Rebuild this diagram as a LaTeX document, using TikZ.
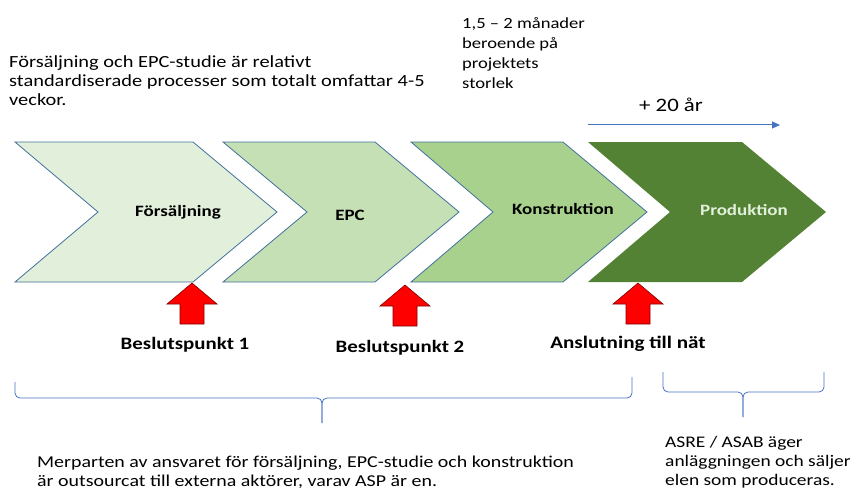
\documentclass[tikz,border=0pt]{standalone}
\usepackage{fontspec}
\setmainfont{Carlito}[FakeStretch=1.2]
\usetikzlibrary{arrows.meta}
\definecolor{fasA}{HTML}{E2EFDA}
\definecolor{fasB}{HTML}{C5E0B4}
\definecolor{fasC}{HTML}{A9D18E}
\definecolor{fasD}{HTML}{548235}
\definecolor{kant}{HTML}{41719C}
\definecolor{blaa}{HTML}{4472C4}
\definecolor{pilrod}{HTML}{FF0000}
\begin{document}
\begin{tikzpicture}[x=1pt, y=-1pt]
\tikzstyle{fas}=[draw=kant, line width=0.8pt, line join=miter]
\tikzstyle{etikett}=[font=\bfseries\fontsize{15.8}{18}\selectfont, inner sep=0pt]
\tikzstyle{beslut}=[font=\bfseries\fontsize{17.4}{20}\selectfont, inner sep=0pt]
\tikzstyle{txt}=[font=\fontsize{17}{19}\selectfont, align=left, inner sep=0pt, anchor=north west]
\tikzstyle{uppil}=[fill=pilrod, draw=red!50!black, line width=0.6pt]
\tikzstyle{klammer}=[draw=blaa, line width=0.8pt, rounded corners=5pt]
\useasboundingbox (0,0) rectangle (856,492);

% faserna
\draw[fas, fill=fasA] (15,142) -- (193,142) -- (277,212) -- (193,282) -- (15,282) -- (98,212) -- cycle;
\draw[fas, fill=fasB] (223,142) -- (375,142) -- (459,212) -- (375,282) -- (223,282) -- (307,212) -- cycle;
\draw[fas, fill=fasC] (411,142) -- (563,142) -- (647,212) -- (563,282) -- (411,282) -- (493,212) -- cycle;
\fill[fasD] (588,142) -- (742,142) -- (826,212) -- (742,282) -- (588,282) -- (670,212) -- cycle;

\node[etikett](fors)   at (178, 212) {Försäljning};
\node[etikett](epc)    at (350, 215) {EPC};
\node[etikett](konstr) at (563, 209) {Konstruktion};
\node[etikett, text=fasA](prod) at (744, 210) {Produktion};

% beslutspunkter
\draw[uppil] (192,283) -- (217,304) -- (204,304) -- (204,324) -- (180,324) -- (180,304) -- (167,304) -- cycle;
\draw[uppil] (405,285) -- (430,306) -- (417,306) -- (417,326) -- (393,326) -- (393,306) -- (380,306) -- cycle;
\draw[uppil] (638,283) -- (663,304) -- (650,304) -- (650,324) -- (626,324) -- (626,304) -- (613,304) -- cycle;

\node[beslut](bp1)  at (185, 345) {Beslutspunkt 1};
\node[beslut](bp2)  at (400, 348) {Beslutspunkt 2};
\node[beslut, font=\bfseries\fontsize{17.6}{20}\selectfont](ansl) at (628, 344) {Anslutning till nät};

% texter
\node[txt](standard) at (9, 55) {Försäljning och EPC-studie är relativt\\standardiserade processer som totalt omfattar 4-5\\veckor.};
\node[txt, font=\fontsize{15.5}{20}\selectfont](manader) at (462, 17) {1,5 -- 2 månader\\beroende på\\projektets\\storlek};
\node[font=\fontsize{19}{20}\selectfont, inner sep=0pt](ar) at (671, 105) {+ 20 år};
\coordinate (ar0) at (588, 125);
\coordinate (ar1) at (780, 125);
\draw[blaa, line width=1pt, -{Triangle[length=8pt, width=7pt]}] (ar0) -- (ar1);

% klamrar
\draw[klammer] (15,382) -- (15,398) -- (322,398) -- (322,423);
\draw[klammer] (632,377) -- (632,398) -- (322,398) -- (322,423);
\draw[klammer] (663,372) -- (663,392) -- (743,392) -- (743,417);
\draw[klammer] (824,372) -- (824,392) -- (743,392) -- (743,417);

\node[txt, font=\fontsize{16.6}{19}\selectfont](ansvar) at (37, 456) {Merparten av ansvaret för försäljning, EPC-studie och konstruktion\\är outsourcat till externa aktörer, varav ASP är en.};
\node[txt, font=\fontsize{16.2}{19}\selectfont](asre) at (665, 436) {ASRE / ASAB äger\\anläggningen och säljer\\elen som produceras.};
\end{tikzpicture}
\end{document}
